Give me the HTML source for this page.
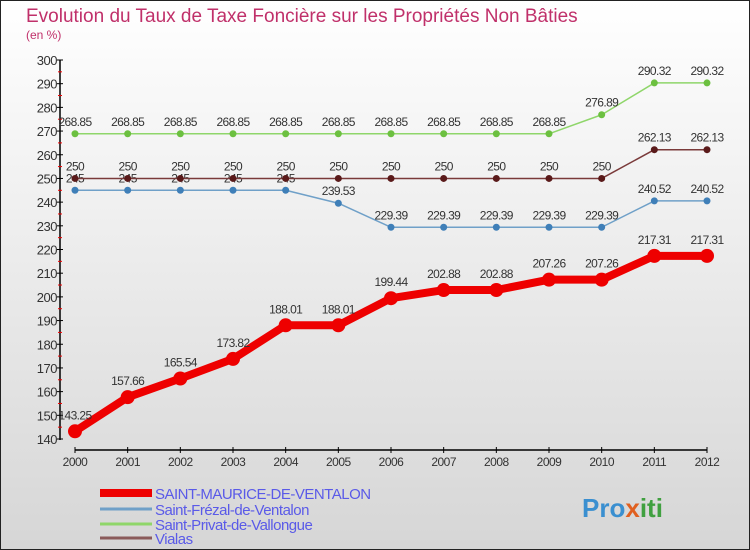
<!DOCTYPE html>
<html><head><meta charset="utf-8"><style>
body{margin:0;}
#wrap{width:750px;height:550px;position:relative;overflow:hidden;}
svg{display:block;font-family:"Liberation Sans",sans-serif;}
</style></head><body>
<div id="wrap">
<svg id="chart" width="750" height="550" viewBox="0 0 750 550">
<defs><linearGradient id="bg" x1="0" y1="0" x2="0" y2="1"><stop offset="0" stop-color="#ffffff"/><stop offset="1" stop-color="#d6d6d6"/></linearGradient></defs>
<rect x="0.5" y="0.5" width="749" height="549" fill="url(#bg)" stroke="#222"/>
<text x="26" y="22" font-size="19" fill="#c0306a">Evolution du Taux de Taxe Foncière sur les Propriétés Non Bâties</text>
<text x="26" y="39" font-size="12" fill="#c0306a">(en %)</text>
<g id="axes"></g>
<g id="series"></g>
<g id="legend"></g>
<text x="582" y="517" font-size="26" font-weight="bold" fill="#3a8fd0">Pro<tspan fill="#e06020">x</tspan><tspan fill="#40a040">iti</tspan></text>
</svg>
</div>
<script>
const years=[2000,2001,2002,2003,2004,2005,2006,2007,2008,2009,2010,2011,2012];
const yTicks=[140,150,160,170,180,190,200,210,220,230,240,250,260,270,280,290,300];
const smv=[143.25,157.66,165.54,173.82,188.01,188.01,199.44,202.88,202.88,207.26,207.26,217.31,217.31];
const sfv=[245,245,245,245,245,239.53,229.39,229.39,229.39,229.39,229.39,240.52,240.52];
const spv=[268.85,268.85,268.85,268.85,268.85,268.85,268.85,268.85,268.85,268.85,276.89,290.32,290.32];
const vialas=[250,250,250,250,250,250,250,250,250,250,250,262.13,262.13];
const seriesNames=["SAINT-MAURICE-DE-VENTALON","Saint-Frézal-de-Ventalon","Saint-Privat-de-Vallongue","Vialas"];
const NS="http://www.w3.org/2000/svg";
function X(i){return 75+i*(707-75)/(years.length-1);}
function Y(v){return 439-(v-140)*(439-60)/160;}
function mk(tag,attrs,parent){const e=document.createElementNS(NS,tag);for(const k in attrs)e.setAttribute(k,attrs[k]);parent.appendChild(e);return e;}
const axes=document.getElementById('axes');
let a=mk('line',{x1:60,y1:60,x2:60,y2:440,stroke:'#000','stroke-width':1.5},axes);


yTicks.forEach((t,i)=>{
  const y=Y(t);
  let l=mk('line',{x1:57,y1:y,x2:63,y2:y,stroke:'#000'},axes);
  
  
  if(i<yTicks.length-1){let m=mk('line',{x1:58,y1:y-11.85,x2:62,y2:y-11.85,stroke:'#e00'},axes);
  
  }
  let tx=mk('text',{x:57,y:y+5,'text-anchor':'end','font-size':13,fill:'#333','letter-spacing':'-0.5'},axes);
  tx.textContent=t;
  
  
});
let xa=mk('line',{x1:75,y1:450,x2:707,y2:450,stroke:'#000','stroke-width':1.5},axes);


years.forEach((yr,i)=>{
  let l=mk('line',{x1:X(i),y1:447,x2:X(i),y2:453,stroke:'#000'},axes);
  
  
  let tx=mk('text',{x:X(i),y:466,'text-anchor':'middle','font-size':12,fill:'#333','letter-spacing':'-0.5'},axes);
  tx.textContent=yr;
  
  
});
const sg=document.getElementById('series');
function draw(vals,line,dot,w,r,name,labelOffset){
  const g=mk('g',{},sg);
  
  
  let p=mk('polyline',{points:vals.map((v,i)=>X(i)+','+Y(v)).join(' '),fill:'none',stroke:line,'stroke-width':w,'stroke-linejoin':'round'},g);
  
  
  vals.forEach((v,i)=>{
    let c=mk('circle',{cx:X(i),cy:Y(v),r:r,fill:dot,stroke:'none'},g);
    
    
    let t=mk('text',{x:X(i),y:Y(v)-labelOffset,'text-anchor':'middle','font-size':12,fill:'#333','letter-spacing':'-0.6'},g);
    t.textContent=String(v);
    
    
  });
}
draw(sfv,'#6fa0c8','#3f7fb8',1.5,3.5,'saint-frezal',8);
draw(vialas,'#7a3a3a','#5a1a1a',1.5,3.5,'vialas',8);
draw(spv,'#8fd66a','#6cc040',1.5,3.5,'saint-privat',8);
draw(smv,'#ee0000','#ee0000',8,7,'saint-maurice',12);
const lg=document.getElementById('legend');
const lc=['#ee0000','#6fa0c8','#8fd66a','#8a5a5a'];
const lw=[8,3,3,3];
const ly=[493,509,524,538];
seriesNames.forEach((n,i)=>{
  let l=mk('line',{x1:100,y1:ly[i],x2:152,y2:ly[i],stroke:lc[i],'stroke-width':lw[i]},lg);
  
  
  let t=mk('text',{x:155,y:ly[i]+6,'font-size':15,fill:'#5a5ae8','letter-spacing':'-0.5'},lg);
  t.textContent=n;
  
  
});
</script>
</body></html>
